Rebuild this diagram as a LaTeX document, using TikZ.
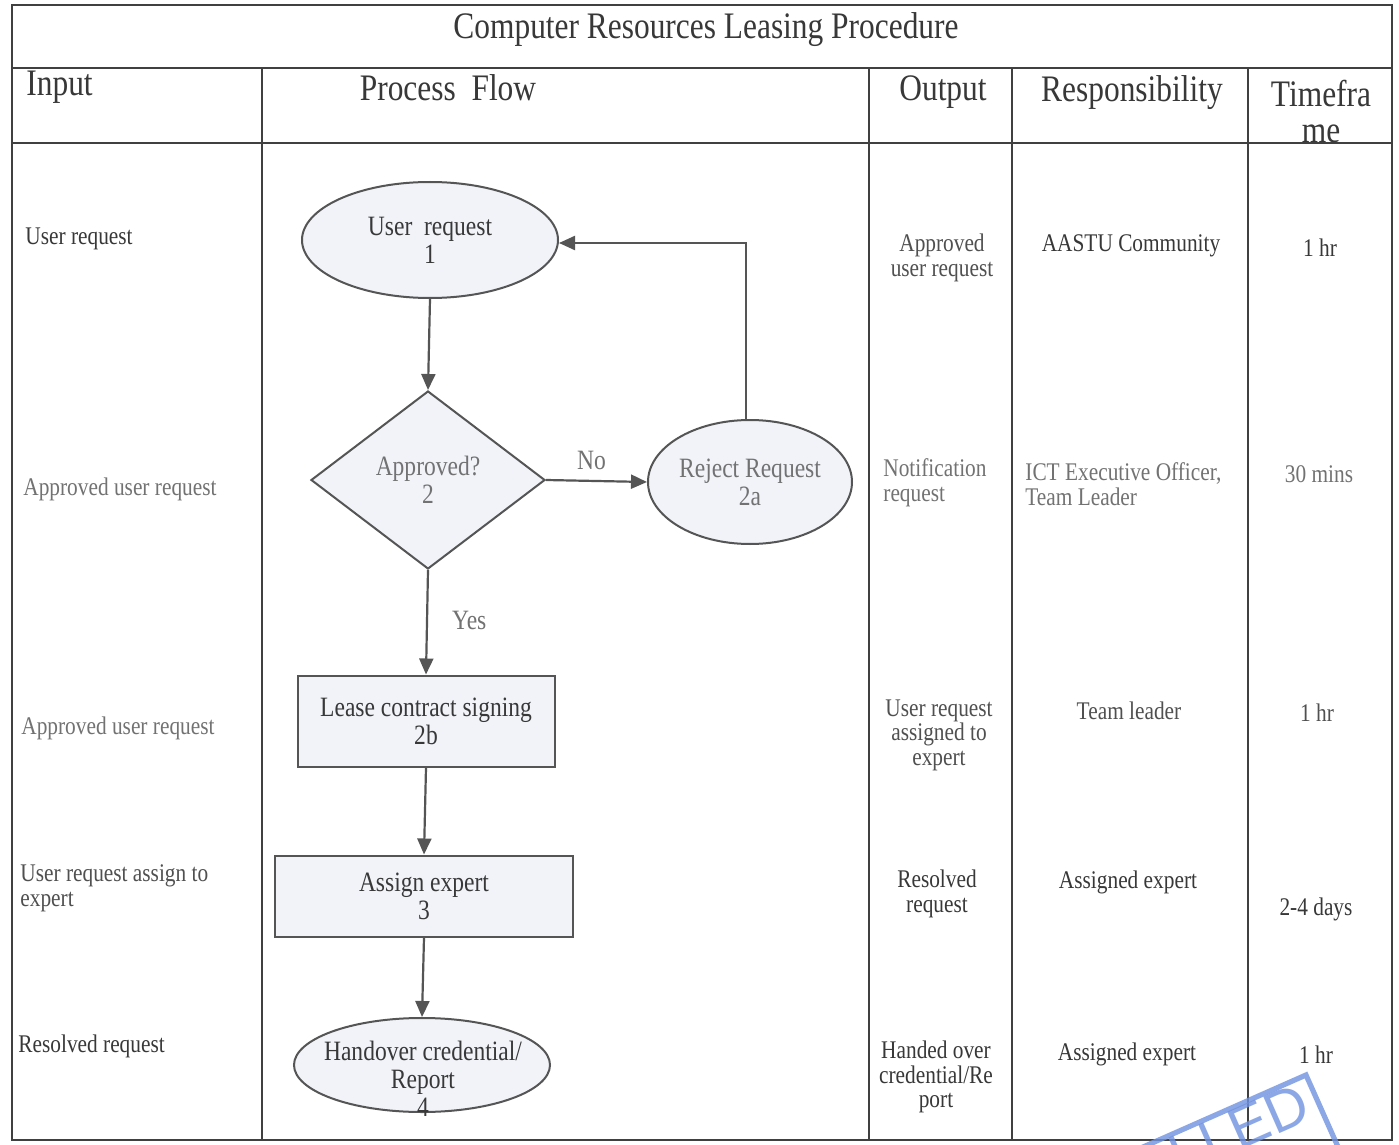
\documentclass[tikz,border=0pt]{standalone}
\usepackage{fontspec}
\setmainfont{Liberation Serif}[FakeStretch=0.84]
\newfontfamily\stampfont{Liberation Sans}
\usetikzlibrary{shapes.geometric,arrows.meta}
\definecolor{ink}{HTML}{383838}
\definecolor{midink}{HTML}{505050}
\definecolor{faintink}{HTML}{727272}
\definecolor{ruleink}{HTML}{404040}
\definecolor{flowline}{HTML}{555555}
\definecolor{nodefill}{HTML}{F1F3F9}
\definecolor{stampblue}{HTML}{7092E0}
\begin{document}
\begin{tikzpicture}[x=0.5pt,y=-0.5pt,
  rule/.style={draw=ruleink,line width=0.8pt},
  txt/.style={inner sep=0pt,text=ink,font=\fontsize{12.7}{12.3}\selectfont},
  txtl/.style={txt,anchor=west,align=left},
  txtc/.style={txt,align=center},
  faint/.style={text=faintink},
  mid/.style={text=midink},
  head/.style={inner sep=0pt,text=ink,font=\fontsize{18.7}{18}\selectfont,align=center},
  flow/.style={draw=flowline,line width=1pt,fill=nodefill,text=ink,inner sep=0pt,align=center,font=\fontsize{14}{14}\selectfont},
  oval/.style={flow,ellipse},
  stepbox/.style={flow,rectangle},
  decision/.style={flow,diamond,text=faintink},
  conn/.style={draw=flowline,line width=1.1pt,-{Triangle[length=8pt,width=7pt]}},
  edgelabel/.style={inner sep=0pt,text=faintink,font=\fontsize{14}{14}\selectfont},
]
\useasboundingbox (0,0) rectangle (1399,1145);
\fill[white] (0,0) rectangle (1399,1145);

% ---------- table ----------
\draw[rule] (12,5) rectangle (1392,1140);
\draw[rule] (12,68) -- (1392,68);
\draw[rule] (12,143) -- (1392,143);
\draw[rule] (262,68) -- (262,1140);
\draw[rule] (869,68) -- (869,1140);
\draw[rule] (1012,68) -- (1012,1140);
\draw[rule] (1248,68) -- (1248,1140);

% ---------- headings ----------
\node[head] (title) at (706,30) {Computer Resources Leasing Procedure};
\node[head,anchor=west] (hInput) at (26,87) {Input};
\node[head] (hFlow) at (448,88) {Process\ \ Flow};
\node[head] (hOutput) at (943,92) {Output};
\node[head] (hResp) at (1132,93) {Responsibility};
\node[head] (hTime) at (1321,112) {Timefra\\me};

% ---------- input column ----------
\node[txtl] (in1) at (25,239) {User request};
\node[txtl,faint] (in2) at (23,489) {Approved user request};
\node[txtl,faint] (in3) at (21,728) {Approved user request};
\node[txtl,mid] (in4) at (20,888) {User request assign to\\expert};
\node[txtl] (in5) at (18,1046) {Resolved request};

% ---------- output column ----------
\node[txtc,mid] (out1) at (942,258) {Approved\\user request};
\node[txtl,faint] (out2) at (883,483) {Notification\\request};
\node[txtc,mid] (out3) at (939,735) {User request\\assigned to\\expert};
\node[txtc] (out4) at (937,894) {Resolved\\request};
\node[txtc] (out5) at (936,1077) {Handed over\\credential/Re\\port};

% ---------- responsibility column ----------
\node[txtc] (re1) at (1131,246) {AASTU Community};
\node[txtl,faint] (re2) at (1025,484) {ICT Executive Officer,\\Team Leader};
\node[txtc,mid] (re3) at (1129,711) {Team leader};
\node[txtc] (re4) at (1128,882) {Assigned expert};
\node[txtc] (re5) at (1127,1054) {Assigned expert};

% ---------- timeframe column ----------
\node[txtc] (tf1) at (1320,248) {1 hr};
\node[txtc,faint] (tf2) at (1319,474) {30 mins};
\node[txtc,mid] (tf3) at (1317,713) {1 hr};
\node[txtc] (tf4) at (1316,909) {2-4 days};
\node[txtc] (tf5) at (1316,1055) {1 hr};

% ---------- process flow ----------
\node[oval,minimum width=128pt,minimum height=58pt] (user) at (430,240) {User\ \ request\\1};
\node[decision,minimum width=117pt,minimum height=89pt] (dec) at (428,480) {Approved?\\2};
\node[oval,text=faintink,minimum width=102pt,minimum height=62pt] (rej) at (750,482) {Reject Request\\2a};
\node[stepbox,minimum width=128.5pt,minimum height=45.5pt] (lease) at (426,721) {Lease contract signing\\2b};
\node[stepbox,minimum width=149pt,minimum height=40.5pt] (assign) at (424,896) {Assign expert\\3};
\node[oval,minimum width=128pt,minimum height=47pt] (hand) at (422,1065) {};
\node[inner sep=0pt,align=center,text=ink,font=\fontsize{14}{14}\selectfont] (handT) at (423,1079) {Handover credential/\\Report\\4};

\draw[conn] (user.south) -- (dec.north);
\draw[conn] (dec.east) -- (rej.west) node[edgelabel,pos=0.45,above=5pt] (noL) {No};
\draw[conn] ([xshift=-2pt]rej.north) |- ([yshift=-1.5pt]user.east);
\draw[conn] (dec.south) -- (lease.north) node[edgelabel,pos=0.48,right=12pt] (yesL) {Yes};
\draw[conn] (lease.south) -- (assign.north);
\draw[conn] (assign.south) -- (hand.north);

% ---------- stamp ----------
\begin{scope}
  \clip (0,0) rectangle (1399,1145);
  \draw[stampblue,opacity=0.8,line width=2.6pt] (1306,1075) -- (867,1269) -- (928,1406) -- (1367,1212) -- cycle;
  \node[inner sep=0pt,text=stampblue,opacity=0.8,font=\stampfont\fontsize{29}{29}\selectfont,rotate=23.8,anchor=east] (stamp) at (1306,1100) {LLED};
\end{scope}
\end{tikzpicture}
\end{document}
